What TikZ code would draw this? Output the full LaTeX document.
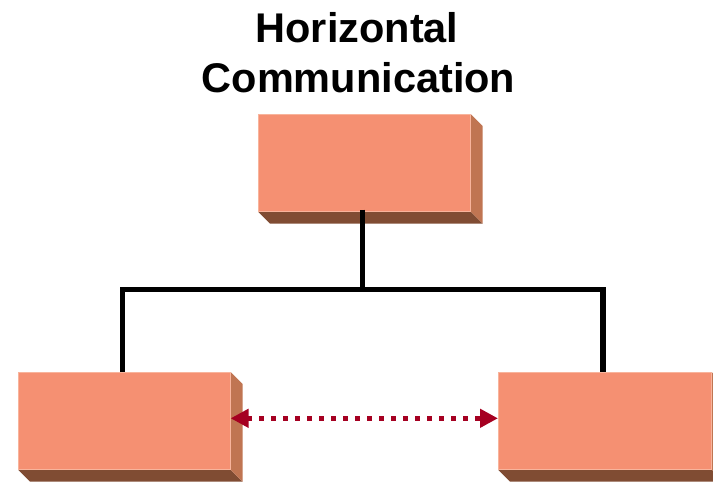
\documentclass[tikz,border=0pt]{standalone}
\usepackage{fontspec}
\setmainfont{Liberation Sans}
\usetikzlibrary{arrows.meta}
\definecolor{boxfront}{HTML}{F59072}
\definecolor{boxside}{HTML}{C07552}
\definecolor{boxbottom}{HTML}{804C33}
\definecolor{boxedge}{HTML}{F8B49C}
\definecolor{arrowred}{HTML}{A50021}
\tikzset{
  frontface/.style={rectangle, fill=boxfront, draw=boxedge, line width=0.6pt, inner sep=0pt, minimum width=212pt, minimum height=97pt, anchor=north west},
  titletext/.style={font=\bfseries\fontsize{41.5}{50}\selectfont, anchor=base, inner sep=0pt},
  orgline/.style={line width=5.5pt, black},
  peerarrow/.style={line width=5pt, arrowred, dash pattern=on 5pt off 7pt, {Triangle[length=18pt,width=18pt]}-{Triangle[length=18pt,width=18pt]}}
}
\newcommand{\depthbox}[1]{%
  \fill[boxbottom] (#1.south west) -- (#1.south east) -- ([shift={(12,12)}]#1.south east) -- ([shift={(12,12)}]#1.south west) -- cycle;
  \fill[boxside] (#1.north east) -- ([shift={(12,12)}]#1.north east) -- ([shift={(12,12)}]#1.south east) -- (#1.south east) -- cycle;
}
\begin{document}
\begin{tikzpicture}[x=1pt,y=-1pt]
\useasboundingbox (0,0) rectangle (713,482);
\node[titletext] (t1) at (357,42) {Horizontal};
\node[titletext] (t2) at (358.5,92) {Communication};
% boxes
\node[frontface] (top) at (258,114) {};
\node[frontface] (left) at (18,372) {};
\node[frontface, minimum width=213pt] (right) at (498,372) {};
\depthbox{top}
\depthbox{left}
\depthbox{right}
\node[frontface] at (258,114) {};
\node[frontface] at (18,372) {};
\node[frontface, minimum width=213pt] at (498,372) {};
% org lines
\coordinate (junction) at (362.5,289.5);
\coordinate (lcorner) at (122.5,289.5);
\coordinate (rcorner) at (603,289.5);
\draw[orgline] ([yshift=2pt]top.south -| junction) -- (junction);
\draw[orgline, line join=miter] (lcorner |- left.north) -- (lcorner) -- (rcorner) -- (rcorner |- right.north);
% peer arrow
\draw[peerarrow] ([yshift=2.5pt]left.east) -- ([yshift=2.5pt]right.west);
\end{tikzpicture}
\end{document}
